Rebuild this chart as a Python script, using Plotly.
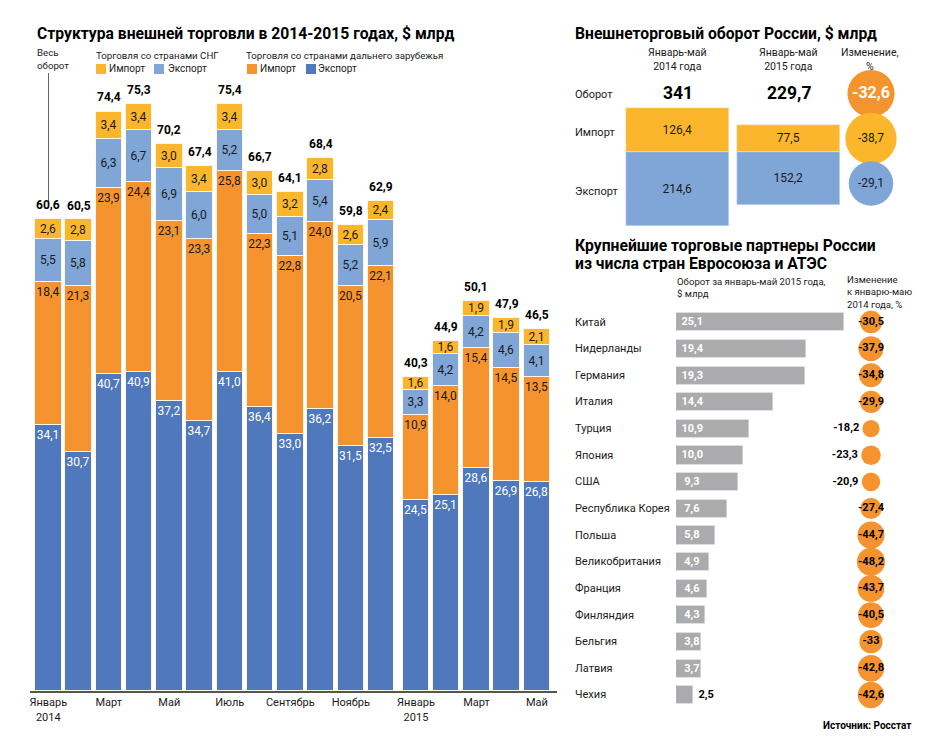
import plotly.graph_objects as go

W = 945
H = 755
TEXT = "Roboto"
WIDE = "Roboto"
YELLOW = "#fbb62b"
LIGHT_BLUE = "#7fa6d6"
ORANGE = "#f5932e"
BLUE = "#4f79bc"
GREY = "#ababad"
INK = "#1a1a1a"

# monthly trade, $ bn
months = ["Январь<br>2014", "Фев14", "Март", "Апр14", "Май", "Июн14", "Июль", "Авг14", "Сентябрь",
          "Окт14", "Ноябрь", "Дек14", "Январь<br>2015", "Фев15", "Март", "Апр15", "Май"]
far_export = [34.1, 30.7, 40.7, 40.9, 37.2, 34.7, 41.0, 36.4, 33.0, 36.2, 31.5, 32.5, 24.5, 25.1, 28.6, 26.9, 26.8]
far_import = [18.4, 21.3, 23.9, 24.4, 23.1, 23.3, 25.8, 22.3, 22.8, 24.0, 20.5, 22.1, 10.9, 14.0, 15.4, 14.5, 13.5]
cis_export = [5.5, 5.8, 6.3, 6.7, 6.9, 6.0, 5.2, 5.0, 5.1, 5.4, 5.2, 5.9, 3.3, 4.2, 4.2, 4.6, 4.1]
cis_import = [2.6, 2.8, 3.4, 3.4, 3.0, 3.4, 3.4, 3.0, 3.2, 2.8, 2.6, 2.4, 1.6, 1.6, 1.9, 1.9, 2.1]
totals = [60.6, 60.5, 74.4, 75.3, 70.2, 67.4, 75.4, 66.7, 64.1, 68.4, 59.8, 62.9, 40.3, 44.9, 50.1, 47.9, 46.5]

# January-May turnover
periods = ["Январь-май<br>2014 года", "Январь-май<br>2015 года"]
period_import = [126.4, 77.5]
period_export = [214.6, 152.2]
period_total = ["341", "229,7"]
flows = ["Оборот", "Импорт", "Экспорт"]
flow_change = [-32.6, -38.7, -29.1]

# partners
countries = ["Китай", "Нидерланды", "Германия", "Италия", "Турция", "Япония", "США", "Республика Корея",
             "Польша", "Великобритания", "Франция", "Финляндия", "Бельгия", "Латвия", "Чехия"]
turnover = [25.1, 19.4, 19.3, 14.4, 10.9, 10.0, 9.3, 7.6, 5.8, 4.9, 4.6, 4.3, 3.8, 3.7, 2.5]
change = [-30.5, -37.9, -34.8, -29.9, -18.2, -23.3, -20.9, -27.4, -44.7, -48.2, -43.7, -40.5, -33, -42.8, -42.6]


def comma(v):
    return f"{v:.1f}".replace(".", ",")


def hdom(left, right):
    return [left / W, right / W]


def vdom(top, bottom):
    return [1 - bottom / H, 1 - top / H]


def note(x, y, text, size=11, font=TEXT, anchor="left", color=INK, xref="paper"):
    px = x / W if xref == "paper" else x
    return dict(x=px, y=1 - y / H, xref=xref, yref="paper", text=text, showarrow=False,
                xanchor=anchor, yanchor="middle", align=anchor,
                font=dict(family=font, size=size, color=color))


def swatch(left, color):
    return dict(type="rect", xref="paper", yref="paper", x0=left / W, x1=(left + 10) / W,
                y0=1 - 74 / H, y1=1 - 64 / H, fillcolor=color, line_width=0)


# a small gap separates 2014 from 2015
slots = [i if i < 12 else i + 0.155 for i in range(len(months))]

fig = go.Figure()


def month_bar(values, name, color, text_color, anchor):
    fig.add_trace(go.Bar(x=slots, y=values, name=name, marker_color=color, width=0.875,
                         marker_line=dict(width=1, color="#fff6e6"), showlegend=False,
                         text=[comma(v) for v in values], textposition="inside", insidetextanchor=anchor,
                         textangle=0, constraintext="none",
                         insidetextfont=dict(family=TEXT, size=12, color=text_color)))


month_bar(far_export, "Экспорт", BLUE, "white", "end")
month_bar(far_import, "Импорт", ORANGE, INK, "end")
month_bar(cis_export, "Экспорт", LIGHT_BLUE, INK, "middle")
month_bar(cis_import, "Импорт", YELLOW, INK, "middle")

# turnover blocks: import goes up, export goes down from the shared edge
fig.add_trace(go.Bar(x=periods, y=period_import, xaxis="x2", yaxis="y2", marker_color=YELLOW, width=0.93,
                     showlegend=False, text=[comma(v) for v in period_import], textposition="inside",
                     insidetextanchor="middle", textangle=0,
                     insidetextfont=dict(family=TEXT, size=12, color=INK)))
fig.add_trace(go.Bar(x=periods, y=[-v for v in period_export], xaxis="x2", yaxis="y2", marker_color=LIGHT_BLUE,
                     width=0.93, showlegend=False, text=[comma(v) for v in period_export], textposition="inside",
                     insidetextanchor="middle", textangle=0,
                     insidetextfont=dict(family=TEXT, size=12, color=INK)))

fig.add_trace(go.Scatter(x=["change"] * 3, y=flows, xaxis="x3", yaxis="y3", mode="markers+text", showlegend=False,
                         cliponaxis=False,
                         marker=dict(size=[abs(v) for v in flow_change], sizemode="area", sizeref=1 / 34,
                                     color=[ORANGE, YELLOW, LIGHT_BLUE], line_width=0, opacity=1),
                         text=[comma(v) for v in flow_change], textposition="middle center",
                         textfont=dict(family=WIDE, size=[16, 12, 12], color=["white", INK, INK],
                                       weight=["bold", "normal", "normal"])))

# partners
bar_text = []
for v in turnover:
    pad = "\u00a0" if v >= 10 else "\u00a0\u00a0"
    bar_text.append(pad + comma(v))
bar_text[-1] = "\u00a0" + comma(turnover[-1])
fig.add_trace(go.Bar(x=turnover, y=countries, orientation="h", xaxis="x4", yaxis="y4", marker_color=GREY, width=0.68,
                     showlegend=False, text=bar_text,
                     textposition=["inside"] * 14 + ["outside"], insidetextanchor="start", textangle=0,
                     constraintext="none", cliponaxis=False,
                     insidetextfont=dict(family=WIDE, size=11, color="white", weight="bold"),
                     outsidetextfont=dict(family=WIDE, size=11, color="black", weight="bold")))
outside = [abs(v) < 25 for v in change]
fig.add_trace(go.Scatter(x=["change"] * len(countries), y=countries, xaxis="x5", yaxis="y5", mode="markers+text",
                         showlegend=False, cliponaxis=False,
                         marker=dict(size=[abs(v) for v in change], sizemode="area", sizeref=1 / 8.2,
                                     color=ORANGE, line_width=0, opacity=1),
                         text=[f"{v:g}".replace(".", ",") for v in change],
                         textposition=["middle left" if o else "middle center" for o in outside],
                         textfont=dict(family=WIDE, size=11, color="black", weight="bold")))

hidden = dict(visible=False, fixedrange=True)
fig.update_layout(
    width=W, height=H, margin=dict(l=0, r=0, t=0, b=0), paper_bgcolor="white", plot_bgcolor="white",
    barmode="relative", bargap=0, showlegend=False,
    xaxis=dict(domain=hdom(30, 557), range=[-0.605, 16.817], tickvals=slots[::2], ticktext=months[::2],
               showgrid=False, zeroline=False, showline=True, linecolor="#555555", linewidth=2, ticks="",
               tickfont=dict(family=TEXT, size=11, color=INK)),
    yaxis=dict(domain=vdom(60, 691), range=[0, 81], **hidden),
    xaxis2=dict(domain=hdom(622, 844), range=[-0.5, 1.5], anchor="y2", type="category", **hidden),
    yaxis2=dict(domain=vdom(75, 230), range=[-225, 222], anchor="x2", **hidden),
    xaxis3=dict(domain=hdom(846, 896), anchor="y3", type="category", **hidden),
    yaxis3=dict(domain=vdom(71, 206), range=[2.5, -0.5], anchor="x3", type="category", **hidden),
    xaxis4=dict(domain=hdom(676, 857), range=[0, 27], anchor="y4", **hidden),
    yaxis4=dict(domain=vdom(308.7, 708.3), range=[14.5, -0.5], anchor="x4", type="category", **hidden),
    xaxis5=dict(domain=hdom(846, 896), anchor="y5", type="category", **hidden),
    yaxis5=dict(domain=vdom(308.7, 708.3), range=[14.5, -0.5], anchor="x5", type="category", **hidden),
    shapes=[dict(type="line", xref="paper", yref="paper", x0=48.5 / W, x1=48.5 / W, y0=1 - 73 / H, y1=1 - 203 / H,
                 line=dict(color="#666666", width=1)),
            swatch(96, YELLOW), swatch(154, LIGHT_BLUE), swatch(247, ORANGE), swatch(306, BLUE)],
)

notes = [
    note(35, 33, "<b>Структура внешней торговли в 2014-2015 годах, $ млрд</b>", 15.7, WIDE, color="black"),
    note(35, 59, "Весь<br>оборот", 9.7),
    note(94, 55, "Торговля со странами СНГ", 9.7),
    note(244, 55, "Торговля со странами дальнего зарубежья", 9.7),
    note(107, 69, "Импорт", 10),
    note(166, 69, "Экспорт", 10),
    note(258, 69, "Импорт", 10),
    note(316, 69, "Экспорт", 10),
    note(573, 33, "<b>Внешнеторговый оборот России, $ млрд</b>", 15.7, WIDE, color="black"),
    note(573, 95, "Оборот", 11),
    note(573, 132, "Импорт", 11),
    note(573, 191, "Экспорт", 11),
    note(870, 59, "Изменение,<br>%", 10.5, anchor="center"),
    note(0, 93, "<b>" + period_total[0] + "</b>", 17.5, WIDE, "center", "black", "x2"),
    note(1, 93, "<b>" + period_total[1] + "</b>", 17.5, WIDE, "center", "black", "x2"),
    note(573, 245, "<b>Крупнейшие торговые партнеры России</b>", 15.7, WIDE, color="black"),
    note(573, 263, "<b>из числа стран Евросоюза и АТЭС</b>", 15.7, WIDE, color="black"),
    note(675, 287, "Оборот за январь-май 2015 года,<br>$ млрд", 9.6),
    note(845, 292, "Изменение<br>к январю-маю<br>2014 года, %", 9.6),
    note(913, 725, "<b>Источник: Росстат</b>", 10, WIDE, "right", "black"),
]
for i, period in enumerate(periods):
    notes.append(note(i, 59.5, period, 10.5, anchor="center", xref="x2"))
for i, name in enumerate(countries):
    notes.append(note(573, 322 + i * 26.64, name, 11))
for slot, total in zip(slots, totals):
    notes.append(dict(x=slot, y=total, xref="x", yref="y", text="<b>" + comma(total) + "</b>", showarrow=False,
                      yanchor="bottom", yshift=5, font=dict(family=WIDE, size=12, color="black")))
fig.update_layout(annotations=notes)

fig.write_html("out.html", post_script="document.body.style.margin='0';", config={"displayModeBar": False})
